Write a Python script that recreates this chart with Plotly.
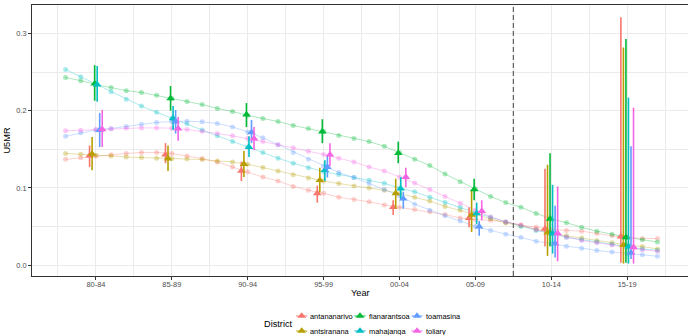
import numpy as np
import plotly.graph_objects as go

# ---------------------------------------------------------------- data
districts = ["antananarivo", "antsiranana", "fianarantsoa",
             "mahajanga", "toamasina", "toliary"]
colors = ["#F8766D", "#B79F00", "#00BA38", "#00BFC4", "#619CFF", "#F564E3"]

period_labels = ["80-84", "85-89", "90-94", "95-99",
                 "00-04", "05-09", "10-14", "15-19"]
period_start = [1980, 1985, 1990, 1995, 2000, 2005, 2010, 2015]

# smoothed annual estimates, mid-year 1980.5 ... 2019.5
smooth_years = [1980.5 + i for i in range(40)]

smooth_antananarivo = [
    0.137, 0.139, 0.1415, 0.143, 0.1446, 0.146, 0.146, 0.1446, 0.1415, 0.138,
    0.1337, 0.127, 0.121, 0.114, 0.109, 0.102, 0.097, 0.093, 0.088, 0.085,
    0.082, 0.078, 0.075, 0.072, 0.069, 0.0655, 0.061, 0.059, 0.058, 0.056,
    0.052, 0.049, 0.046, 0.045, 0.044, 0.041, 0.038, 0.036, 0.0345, 0.0344]
smooth_antsiranana = [
    0.1446, 0.1437, 0.1424, 0.1415, 0.140, 0.1394, 0.1385, 0.138, 0.1376, 0.1368,
    0.135, 0.1337, 0.1307, 0.1264, 0.122, 0.117, 0.113, 0.109, 0.1057, 0.1026,
    0.100, 0.097, 0.0927, 0.088, 0.083, 0.076, 0.071, 0.0655, 0.060, 0.0546,
    0.051, 0.046, 0.042, 0.038, 0.035, 0.032, 0.029, 0.026, 0.024, 0.021]
smooth_fianarantsoa = [
    0.243, 0.239, 0.234, 0.230, 0.226, 0.2237, 0.220, 0.216, 0.212, 0.208,
    0.203, 0.199, 0.194, 0.190, 0.186, 0.181, 0.177, 0.173, 0.168, 0.164,
    0.160, 0.154, 0.146, 0.137, 0.129, 0.118, 0.108, 0.099, 0.089, 0.081,
    0.075, 0.067, 0.060, 0.055, 0.049, 0.044, 0.040, 0.036, 0.033, 0.030]
smooth_mahajanga = [
    0.2535, 0.244, 0.235, 0.2245, 0.215, 0.206, 0.198, 0.190, 0.183, 0.175,
    0.1675, 0.160, 0.153, 0.146, 0.1385, 0.132, 0.126, 0.121, 0.1175, 0.1135,
    0.110, 0.106, 0.100, 0.095, 0.088, 0.081, 0.075, 0.068, 0.062, 0.056,
    0.050, 0.045, 0.041, 0.036, 0.033, 0.030, 0.027, 0.024, 0.021, 0.019]
smooth_toamasina = [
    0.167, 0.1714, 0.175, 0.177, 0.1796, 0.1826, 0.1848, 0.186, 0.1865, 0.1856,
    0.1835, 0.179, 0.1726, 0.165, 0.156, 0.146, 0.137, 0.128, 0.120, 0.1135,
    0.106, 0.098, 0.090, 0.079, 0.071, 0.064, 0.057, 0.050, 0.045, 0.040,
    0.036, 0.031, 0.028, 0.0245, 0.022, 0.019, 0.017, 0.015, 0.0135, 0.0115]
smooth_toliary = [
    0.174, 0.1748, 0.1757, 0.1765, 0.1774, 0.1778, 0.1778, 0.1774, 0.1757, 0.1735,
    0.1705, 0.1675, 0.164, 0.160, 0.156, 0.152, 0.1476, 0.1433, 0.1385, 0.1337,
    0.127, 0.122, 0.1143, 0.1065, 0.098, 0.089, 0.080, 0.071, 0.0624, 0.056,
    0.052, 0.046, 0.041, 0.036, 0.032, 0.029, 0.026, 0.023, 0.020, 0.018]

# direct five-year estimates with interval bounds
est_antananarivo = [0.142, 0.143, 0.122, 0.093, 0.075, 0.061, 0.047, 0.037]
lo_antananarivo = [0.127, 0.132, 0.109, 0.081, 0.065, 0.049, 0.024, 0.003]
hi_antananarivo = [0.155, 0.158, 0.134, 0.103, 0.084, 0.075, 0.125, 0.321]

est_antsiranana = [0.144, 0.138, 0.131, 0.110, 0.093, 0.065, 0.042, 0.026]
lo_antsiranana = [0.123, 0.122, 0.114, 0.094, 0.073, 0.043, 0.012, 0.002]
hi_antsiranana = [0.166, 0.155, 0.148, 0.126, 0.112, 0.096, 0.130, 0.282]

est_fianarantsoa = [0.235, 0.216, 0.195, 0.173, 0.145, 0.098, 0.060, 0.036]
lo_fianarantsoa = [0.213, 0.200, 0.179, 0.158, 0.132, 0.084, 0.024, 0.003]
hi_fianarantsoa = [0.259, 0.232, 0.210, 0.189, 0.160, 0.112, 0.145, 0.293]

est_mahajanga = [0.234, 0.190, 0.153, 0.123, 0.099, 0.067, 0.041, 0.024]
lo_mahajanga = [0.2115, 0.175, 0.140, 0.109, 0.084, 0.053, 0.015, 0.002]
hi_mahajanga = [0.258, 0.206, 0.167, 0.136, 0.114, 0.081, 0.104, 0.217]

est_toamasina = [0.175, 0.186, 0.172, 0.127, 0.086, 0.050, 0.028, 0.016]
lo_toamasina = [0.153, 0.1705, 0.158, 0.1135, 0.073, 0.038, 0.010, 0.008]
hi_toamasina = [0.197, 0.201, 0.188, 0.142, 0.095, 0.057, 0.077, 0.154]

est_toliary = [0.176, 0.177, 0.164, 0.143, 0.114, 0.070, 0.041, 0.023]
lo_toliary = [0.153, 0.161, 0.149, 0.128, 0.101, 0.058, 0.005, 0.002]
hi_toliary = [0.201, 0.192, 0.179, 0.158, 0.126, 0.084, 0.102, 0.204]

y_tick_vals = [0.0, 0.1, 0.2, 0.3]
y_tick_text = ["0.0", "0.1", "0.2", "0.3"]
cutoff_year = 2010

smooth = {
    "antananarivo": smooth_antananarivo, "antsiranana": smooth_antsiranana,
    "fianarantsoa": smooth_fianarantsoa, "mahajanga": smooth_mahajanga,
    "toamasina": smooth_toamasina, "toliary": smooth_toliary,
}
direct = {
    "antananarivo": (est_antananarivo, lo_antananarivo, hi_antananarivo),
    "antsiranana": (est_antsiranana, lo_antsiranana, hi_antsiranana),
    "fianarantsoa": (est_fianarantsoa, lo_fianarantsoa, hi_fianarantsoa),
    "mahajanga": (est_mahajanga, lo_mahajanga, hi_mahajanga),
    "toamasina": (est_toamasina, lo_toamasina, hi_toamasina),
    "toliary": (est_toliary, lo_toliary, hi_toliary),
}

# ---------------------------------------------------------------- layout constants
W, H = 688, 335
L, R, T, B = 32, 0, 5, 59
FONT = "Liberation Sans, Arial, Helvetica, sans-serif"
TICK_SIZE = 7.4
TITLE_SIZE = 9.2
ALPHA = 0.33
TRI_SIZE = 7.5
DODGE = 1.0  # total dodge width, in years


def rgba(hex_color, a):
    h = hex_color.lstrip("#")
    r, g, b = int(h[0:2], 16), int(h[2:4], 16), int(h[4:6], 16)
    return f"rgba({r},{g},{b},{a})"


period_mid = [s + 2.5 for s in period_start]
n = len(districts)

fig = go.Figure()

# smoothed series: faint lines with faint points
for d, c in zip(districts, colors):
    fig.add_trace(go.Scatter(
        x=smooth_years, y=smooth[d], mode="lines+markers",
        line=dict(color=rgba(c, ALPHA), width=1),
        marker=dict(symbol="circle", size=5, color=rgba(c, ALPHA), line=dict(width=0)),
        name=d, showlegend=False, hoverinfo="skip"))

# direct estimates: dodged triangles with interval bars
for k, (d, c) in enumerate(zip(districts, colors)):
    est, lo, hi = direct[d]
    off = (k + 0.5) * DODGE / n - DODGE / 2
    xs = [m + off for m in period_mid]
    fig.add_trace(go.Scatter(
        x=xs, y=est, mode="markers",
        marker=dict(symbol="triangle-up", size=TRI_SIZE, color=c, line=dict(width=0)),
        error_y=dict(type="data", symmetric=False,
                     array=[h - e for h, e in zip(hi, est)],
                     arrayminus=[e - l for e, l in zip(est, lo)],
                     width=0, thickness=1.6, color=c),
        name=d, showlegend=False))

x_left = period_mid[0] - (95.9 - L) / 15.18
x_right = x_left + (W - L - R) / 15.18

fig.update_layout(
    width=W, height=H,
    margin=dict(l=L, r=R, t=T, b=B, pad=0),
    paper_bgcolor="white", plot_bgcolor="white",
    font=dict(family=FONT, color="black"),
    showlegend=False,
    xaxis=dict(
        range=[x_left, x_right], tickmode="array",
        tickvals=period_mid, ticktext=period_labels,
        ticks="outside", ticklen=3, tickwidth=1, tickcolor="#333333",
        ticklabelstandoff=-2,
        tickfont=dict(size=TICK_SIZE, color="#4D4D4D", family=FONT),
        showgrid=True, gridcolor="#EBEBEB", gridwidth=1.1,
        minor=dict(tickmode="array", tickvals=period_start + [2020],
                   showgrid=True, gridcolor="#EBEBEB", gridwidth=0.6, ticks=""),
        showline=True, linecolor="#333333", linewidth=1, mirror=True,
        zeroline=False,
    ),
    yaxis=dict(
        range=[-0.0141, 0.337], tickmode="array",
        tickvals=y_tick_vals, ticktext=y_tick_text,
        ticks="outside", ticklen=3, tickwidth=1, tickcolor="#333333",
        tickfont=dict(size=TICK_SIZE, color="#4D4D4D", family=FONT),
        showgrid=True, gridcolor="#EBEBEB", gridwidth=1.1,
        minor=dict(tickmode="array", tickvals=[0.05, 0.15, 0.25],
                   showgrid=True, gridcolor="#EBEBEB", gridwidth=0.6, ticks=""),
        showline=True, linecolor="#333333", linewidth=1, mirror=False,
        zeroline=False,
        title=dict(text="U5MR", font=dict(size=TITLE_SIZE, color="black", family=FONT),
                   standoff=4),
    ),
)

# projection cutoff
fig.add_shape(type="line", xref="x", yref="paper", x0=cutoff_year, x1=cutoff_year,
              y0=0, y1=1, layer="above",
              line=dict(color="#5E5E5E", width=1.2, dash="5px,3px"))

# ---------------------------------------------------------------- legend and x title (below the panel)
pw, ph = W - L - R, H - T - B


def paper_x(px):
    return (px - L) / pw


def paper_y(py):
    return (H - B - py) / ph


fig.add_annotation(text="Year", xref="paper", yref="paper",
                   x=0.5, y=paper_y(293), xanchor="center", yanchor="middle",
                   showarrow=False, font=dict(size=TITLE_SIZE, color="black", family=FONT))

key_cols = [301.7, 360.0, 417.0]
key_rows = [316.0, 331.0]
key_half = 5.5
r_tri = TRI_SIZE / 2
rt_tri = r_tri * 2 / np.sqrt(3)

fig.add_annotation(text="District", xref="paper", yref="paper",
                   x=paper_x(262), y=paper_y(323.5), xanchor="left", yanchor="middle",
                   showarrow=False, font=dict(size=TITLE_SIZE, color="black", family=FONT))

for k, (d, c) in enumerate(zip(districts, colors)):
    cx, cy = key_cols[k // 2], key_rows[k % 2]
    fig.add_shape(type="line", xref="paper", yref="paper",
                  x0=paper_x(cx - key_half), x1=paper_x(cx + key_half),
                  y0=paper_y(cy), y1=paper_y(cy),
                  line=dict(color=c, width=1))
    pts = [(cx, cy - r_tri), (cx + rt_tri, cy + r_tri / 2), (cx - rt_tri, cy + r_tri / 2)]
    path = "M " + " L ".join(f"{paper_x(x):.5f},{paper_y(y):.5f}" for x, y in pts) + " Z"
    fig.add_shape(type="path", xref="paper", yref="paper", path=path,
                  fillcolor=c, line=dict(width=0))
    fig.add_annotation(text=d, xref="paper", yref="paper",
                       x=paper_x(cx + 6.5), y=paper_y(cy), xanchor="left", yanchor="middle",
                       showarrow=False, font=dict(size=TICK_SIZE, color="black", family=FONT))

fig.write_html("out.html")
